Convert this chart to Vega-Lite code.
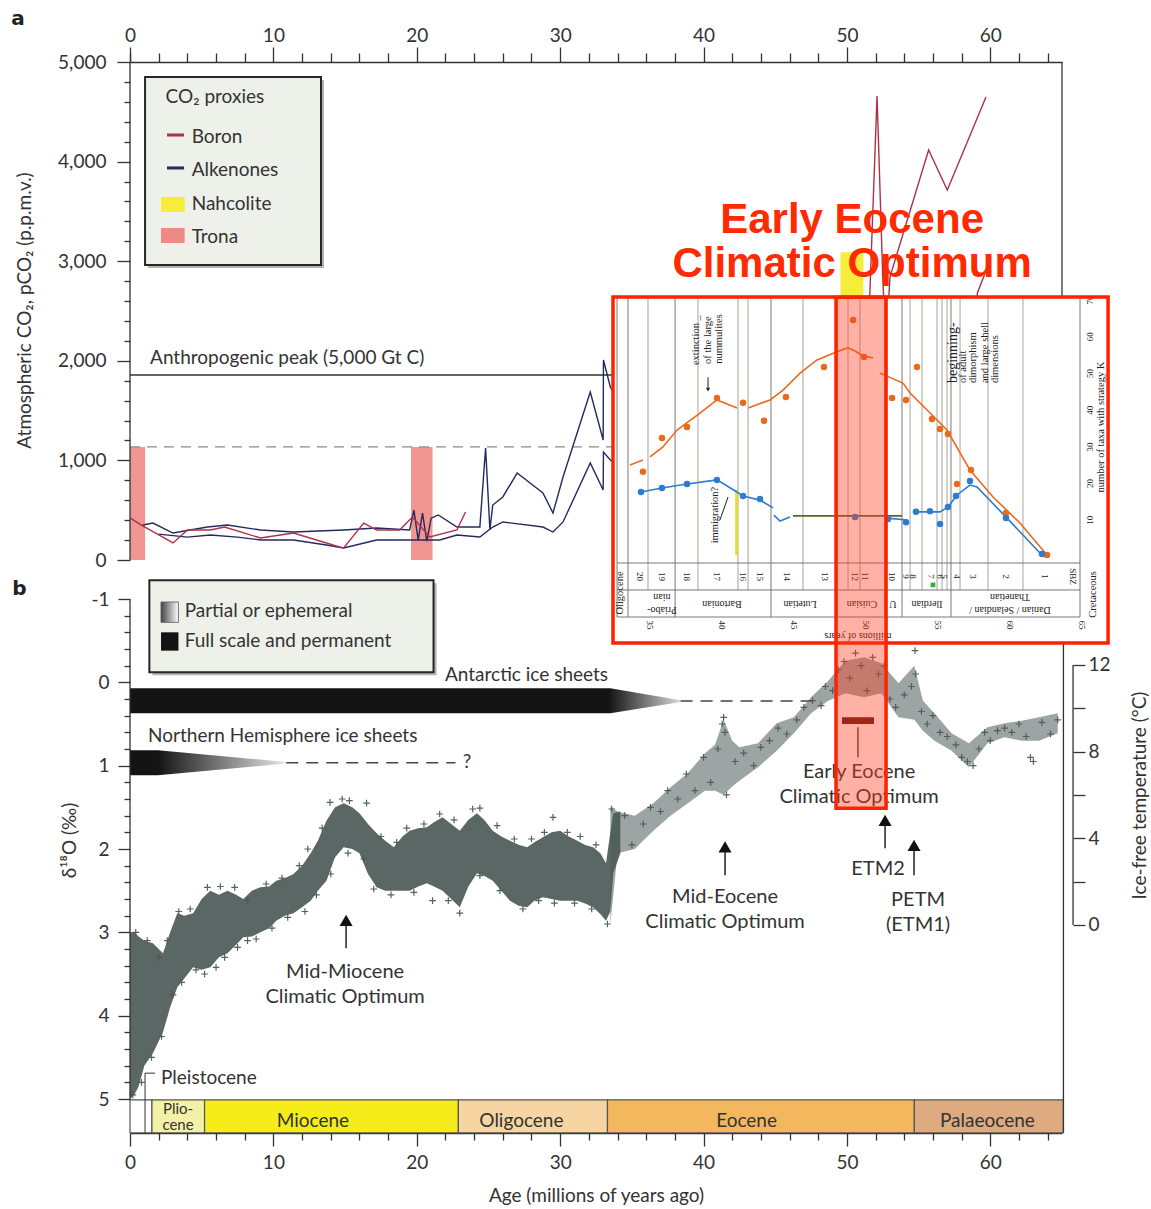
{
  "$schema": "https://vega.github.io/schema/vega-lite/v6.json",
  "width": 932,
  "height": 1071,
  "autosize": {"type": "none"},
  "padding": {"left": 130, "top": 62, "right": 89, "bottom": 76},
  "background": "#ffffff",
  "config": {
    "view": {"stroke": null},
    "axis": {"grid": false, "labelFont": "Lato", "labelFontSize": 19, "labelColor": "#333333", "titleFont": "Lato", "titleFontSize": 19, "titleFontWeight": "normal", "titleColor": "#333333", "tickColor": "#333333", "domainColor": "#333333", "tickWidth": 1.3, "domainWidth": 1.3, "labelOverlap": false, "labelFlush": false},
    "text": {"font": "Lato", "fontSize": 19, "color": "#333333", "baseline": "alphabetic"},
    "rule": {"color": "#333333", "strokeWidth": 1.3}
  },
  "data": {"values": [{}]},
  "datasets": {
    "co2": [
      {"series": "alk_hi", "proxy": "Alkenones", "age": 0.9, "ppm": 351}, {"series": "alk_hi", "proxy": "Alkenones", "age": 1.6, "ppm": 371}, {"series": "alk_hi", "proxy": "Alkenones", "age": 3.0, "ppm": 271}, {"series": "alk_hi", "proxy": "Alkenones", "age": 5.4, "ppm": 331}, {"series": "alk_hi", "proxy": "Alkenones", "age": 6.8, "ppm": 351}, {"series": "alk_hi", "proxy": "Alkenones", "age": 9.1, "ppm": 301}, {"series": "alk_hi", "proxy": "Alkenones", "age": 11.4, "ppm": 281}, {"series": "alk_hi", "proxy": "Alkenones", "age": 14.9, "ppm": 301}, {"series": "alk_hi", "proxy": "Alkenones", "age": 17.2, "ppm": 321}, {"series": "alk_hi", "proxy": "Alkenones", "age": 19.5, "ppm": 301}, {"series": "alk_hi", "proxy": "Alkenones", "age": 19.8, "ppm": 500}, {"series": "alk_hi", "proxy": "Alkenones", "age": 20.1, "ppm": 200}, {"series": "alk_hi", "proxy": "Alkenones", "age": 20.4, "ppm": 470}, {"series": "alk_hi", "proxy": "Alkenones", "age": 20.7, "ppm": 190}, {"series": "alk_hi", "proxy": "Alkenones", "age": 21.0, "ppm": 420}, {"series": "alk_hi", "proxy": "Alkenones", "age": 21.5, "ppm": 452}, {"series": "alk_hi", "proxy": "Alkenones", "age": 22.8, "ppm": 331}, {"series": "alk_hi", "proxy": "Alkenones", "age": 23.7, "ppm": 331}, {"series": "alk_hi", "proxy": "Alkenones", "age": 24.4, "ppm": 331}, {"series": "alk_hi", "proxy": "Alkenones", "age": 24.8, "ppm": 1124}, {"series": "alk_hi", "proxy": "Alkenones", "age": 25.1, "ppm": 301}, {"series": "alk_hi", "proxy": "Alkenones", "age": 25.3, "ppm": 552}, {"series": "alk_hi", "proxy": "Alkenones", "age": 26.0, "ppm": 633}, {"series": "alk_hi", "proxy": "Alkenones", "age": 27.0, "ppm": 873}, {"series": "alk_hi", "proxy": "Alkenones", "age": 28.8, "ppm": 673}, {"series": "alk_hi", "proxy": "Alkenones", "age": 29.5, "ppm": 472}, {"series": "alk_hi", "proxy": "Alkenones", "age": 30.2, "ppm": 833}, {"series": "alk_hi", "proxy": "Alkenones", "age": 32.1, "ppm": 1687}, {"series": "alk_hi", "proxy": "Alkenones", "age": 33.0, "ppm": 1205}, {"series": "alk_hi", "proxy": "Alkenones", "age": 33.02, "ppm": 2008}, {"series": "alk_hi", "proxy": "Alkenones", "age": 33.5, "ppm": 1737}, {"series": "alk_hi", "proxy": "Alkenones", "age": 34.5, "ppm": 1500},
      {"series": "alk_lo", "proxy": "Alkenones", "age": 2.0, "ppm": 260}, {"series": "alk_lo", "proxy": "Alkenones", "age": 4.0, "ppm": 230}, {"series": "alk_lo", "proxy": "Alkenones", "age": 5.6, "ppm": 251}, {"series": "alk_lo", "proxy": "Alkenones", "age": 7.5, "ppm": 230}, {"series": "alk_lo", "proxy": "Alkenones", "age": 9.1, "ppm": 201}, {"series": "alk_lo", "proxy": "Alkenones", "age": 11.4, "ppm": 201}, {"series": "alk_lo", "proxy": "Alkenones", "age": 13.7, "ppm": 151}, {"series": "alk_lo", "proxy": "Alkenones", "age": 14.9, "ppm": 120}, {"series": "alk_lo", "proxy": "Alkenones", "age": 17.2, "ppm": 201}, {"series": "alk_lo", "proxy": "Alkenones", "age": 19.5, "ppm": 201}, {"series": "alk_lo", "proxy": "Alkenones", "age": 21.6, "ppm": 201}, {"series": "alk_lo", "proxy": "Alkenones", "age": 22.8, "ppm": 251}, {"series": "alk_lo", "proxy": "Alkenones", "age": 24.4, "ppm": 231}, {"series": "alk_lo", "proxy": "Alkenones", "age": 25.3, "ppm": 331}, {"series": "alk_lo", "proxy": "Alkenones", "age": 26.0, "ppm": 382}, {"series": "alk_lo", "proxy": "Alkenones", "age": 28.8, "ppm": 331}, {"series": "alk_lo", "proxy": "Alkenones", "age": 29.5, "ppm": 281}, {"series": "alk_lo", "proxy": "Alkenones", "age": 30.2, "ppm": 382}, {"series": "alk_lo", "proxy": "Alkenones", "age": 32.1, "ppm": 974}, {"series": "alk_lo", "proxy": "Alkenones", "age": 33.0, "ppm": 703}, {"series": "alk_lo", "proxy": "Alkenones", "age": 33.02, "ppm": 1084}, {"series": "alk_lo", "proxy": "Alkenones", "age": 33.5, "ppm": 1004}, {"series": "alk_lo", "proxy": "Alkenones", "age": 34.5, "ppm": 900},
      {"series": "boron", "proxy": "Boron", "age": 0, "ppm": 422}, {"series": "boron", "proxy": "Boron", "age": 0.8, "ppm": 351}, {"series": "boron", "proxy": "Boron", "age": 3.0, "ppm": 171}, {"series": "boron", "proxy": "Boron", "age": 4.0, "ppm": 301}, {"series": "boron", "proxy": "Boron", "age": 5.6, "ppm": 301}, {"series": "boron", "proxy": "Boron", "age": 6.6, "ppm": 331}, {"series": "boron", "proxy": "Boron", "age": 9.1, "ppm": 221}, {"series": "boron", "proxy": "Boron", "age": 11.4, "ppm": 271}, {"series": "boron", "proxy": "Boron", "age": 13.7, "ppm": 171}, {"series": "boron", "proxy": "Boron", "age": 14.9, "ppm": 120}, {"series": "boron", "proxy": "Boron", "age": 16.3, "ppm": 371}, {"series": "boron", "proxy": "Boron", "age": 17.2, "ppm": 301}, {"series": "boron", "proxy": "Boron", "age": 18.8, "ppm": 301}, {"series": "boron", "proxy": "Boron", "age": 19.7, "ppm": 432}, {"series": "boron", "proxy": "Boron", "age": 20.9, "ppm": 231}, {"series": "boron", "proxy": "Boron", "age": 22.8, "ppm": 301}, {"series": "boron", "proxy": "Boron", "age": 23.4, "ppm": 482},
      {"series": "boron_eo1", "proxy": "Boron", "age": 51.0, "ppm": 1300}, {"series": "boron_eo1", "proxy": "Boron", "age": 51.6, "ppm": 2681}, {"series": "boron_eo1", "proxy": "Boron", "age": 52.1, "ppm": 4659}, {"series": "boron_eo1", "proxy": "Boron", "age": 52.5, "ppm": 2841}, {"series": "boron_eo1", "proxy": "Boron", "age": 52.8, "ppm": 1800},
      {"series": "boron_eo2", "proxy": "Boron", "age": 52.6, "ppm": 1800}, {"series": "boron_eo2", "proxy": "Boron", "age": 53.0, "ppm": 2841}, {"series": "boron_eo2", "proxy": "Boron", "age": 55.7, "ppm": 4116}, {"series": "boron_eo2", "proxy": "Boron", "age": 57.0, "ppm": 3715}, {"series": "boron_eo2", "proxy": "Boron", "age": 59.7, "ppm": 4649},
      {"series": "boron_eo3", "proxy": "Boron", "age": 58.5, "ppm": 1500}, {"series": "boron_eo3", "proxy": "Boron", "age": 59.1, "ppm": 2681}, {"series": "boron_eo3", "proxy": "Boron", "age": 59.8, "ppm": 2942}
    ],
    "trona": [{"start": 0, "end": 1.05, "lo": 0, "hi": 1135}, {"start": 19.6, "end": 21.1, "lo": 0, "hi": 1135}],
    "nahcolite": [{"start": 49.55, "end": 51.15, "lo": 1135, "hi": 3090}],
    "ice_ant": [{"age": 0, "top": 0.07, "bot": 0.37}, {"age": 33.5, "top": 0.07, "bot": 0.37}, {"age": 38.4, "top": 0.215, "bot": 0.235}],
    "ice_nh": [{"age": 0, "top": 0.816, "bot": 1.116}, {"age": 1.95, "top": 0.816, "bot": 1.116}, {"age": 10.9, "top": 0.955, "bot": 0.975}],
    "ice_dash": [{"start": 38.4, "end": 48.2, "d": 0.225}, {"start": 10.9, "end": 22.7, "d": 0.965}],
    "ice_labels": [{"label": "Antarctic ice sheets", "age": 21.97, "d": -0.02}, {"label": "Northern Hemisphere ice sheets", "age": 1.26, "d": 0.72}],
    "d18o_neogene": [
      {"age": 0, "lo": 3.0, "hi": 5.0}, {"age": 0.3, "lo": 3.0, "hi": 4.95}, {"age": 0.6, "lo": 3.05, "hi": 4.85}, {"age": 1.0, "lo": 3.1, "hi": 4.6}, {"age": 1.6, "lo": 3.13, "hi": 4.45}, {"age": 2.3, "lo": 3.25, "hi": 4.2}, {"age": 2.8, "lo": 3.0, "hi": 3.9}, {"age": 3.3, "lo": 2.77, "hi": 3.66}, {"age": 3.8, "lo": 2.8, "hi": 3.55}, {"age": 4.4, "lo": 2.77, "hi": 3.42}, {"age": 5.0, "lo": 2.6, "hi": 3.45}, {"age": 5.6, "lo": 2.5, "hi": 3.42}, {"age": 6.2, "lo": 2.55, "hi": 3.3}, {"age": 6.8, "lo": 2.5, "hi": 3.25}, {"age": 7.4, "lo": 2.55, "hi": 3.15}, {"age": 7.9, "lo": 2.6, "hi": 3.06}, {"age": 8.5, "lo": 2.5, "hi": 3.05}, {"age": 9.1, "lo": 2.46, "hi": 3.0}, {"age": 9.7, "lo": 2.45, "hi": 2.95}, {"age": 10.2, "lo": 2.38, "hi": 2.86}, {"age": 10.8, "lo": 2.35, "hi": 2.8}, {"age": 11.4, "lo": 2.3, "hi": 2.77}, {"age": 12.0, "lo": 2.2, "hi": 2.7}, {"age": 12.6, "lo": 2.05, "hi": 2.62}, {"age": 13.1, "lo": 1.9, "hi": 2.5}, {"age": 13.7, "lo": 1.66, "hi": 2.38}, {"age": 14.3, "lo": 1.5, "hi": 2.1}, {"age": 14.9, "lo": 1.45, "hi": 1.98}, {"age": 15.5, "lo": 1.5, "hi": 2.0}, {"age": 16.0, "lo": 1.57, "hi": 2.05}, {"age": 16.6, "lo": 1.7, "hi": 2.3}, {"age": 17.2, "lo": 1.81, "hi": 2.46}, {"age": 17.8, "lo": 1.9, "hi": 2.5}, {"age": 18.4, "lo": 1.98, "hi": 2.5}, {"age": 19.0, "lo": 1.85, "hi": 2.5}, {"age": 19.5, "lo": 1.78, "hi": 2.5}, {"age": 20.1, "lo": 1.75, "hi": 2.45}, {"age": 20.7, "lo": 1.74, "hi": 2.41}, {"age": 21.2, "lo": 1.68, "hi": 2.45}, {"age": 21.8, "lo": 1.62, "hi": 2.5}, {"age": 22.4, "lo": 1.7, "hi": 2.6}, {"age": 23.0, "lo": 1.78, "hi": 2.7}, {"age": 23.6, "lo": 1.65, "hi": 2.45}, {"age": 24.2, "lo": 1.57, "hi": 2.29}, {"age": 24.7, "lo": 1.65, "hi": 2.32}, {"age": 25.3, "lo": 1.78, "hi": 2.38}, {"age": 25.9, "lo": 1.85, "hi": 2.5}, {"age": 26.5, "lo": 1.9, "hi": 2.62}, {"age": 27.1, "lo": 1.95, "hi": 2.68}, {"age": 27.7, "lo": 1.98, "hi": 2.7}, {"age": 28.2, "lo": 1.92, "hi": 2.62}, {"age": 28.8, "lo": 1.86, "hi": 2.58}, {"age": 29.4, "lo": 1.8, "hi": 2.6}, {"age": 30.0, "lo": 1.78, "hi": 2.62}, {"age": 30.6, "lo": 1.85, "hi": 2.62}, {"age": 31.2, "lo": 1.9, "hi": 2.62}, {"age": 31.7, "lo": 1.95, "hi": 2.65}, {"age": 32.3, "lo": 1.98, "hi": 2.7}, {"age": 32.8, "lo": 2.05, "hi": 2.78}, {"age": 33.2, "lo": 2.17, "hi": 2.86}, {"age": 33.5, "lo": 1.8, "hi": 2.75}, {"age": 33.7, "lo": 1.57, "hi": 2.29}, {"age": 34.2, "lo": 1.55, "hi": 2.05}
    ],
    "d18o_paleogene": [
      {"age": 33.5, "lo": 1.5, "hi": 2.9}, {"age": 34.0, "lo": 1.55, "hi": 2.05}, {"age": 35.2, "lo": 1.6, "hi": 2.0}, {"age": 36.5, "lo": 1.45, "hi": 1.78}, {"age": 37.7, "lo": 1.26, "hi": 1.6}, {"age": 38.9, "lo": 1.09, "hi": 1.45}, {"age": 40.1, "lo": 0.85, "hi": 1.3}, {"age": 40.8, "lo": 0.75, "hi": 1.3}, {"age": 41.4, "lo": 0.45, "hi": 1.35}, {"age": 42.0, "lo": 0.7, "hi": 1.25}, {"age": 42.5, "lo": 0.78, "hi": 1.18}, {"age": 43.8, "lo": 0.73, "hi": 1.02}, {"age": 45.1, "lo": 0.49, "hi": 0.82}, {"age": 46.3, "lo": 0.42, "hi": 0.61}, {"age": 47.5, "lo": 0.18, "hi": 0.37}, {"age": 48.7, "lo": -0.02, "hi": 0.22}, {"age": 49.9, "lo": -0.26, "hi": 0.13}, {"age": 51.2, "lo": -0.3, "hi": 0.18}, {"age": 52.4, "lo": -0.23, "hi": 0.13}, {"age": 53.6, "lo": 0.01, "hi": 0.42}, {"age": 54.7, "lo": -0.2, "hi": 0.45}, {"age": 55.3, "lo": 0.22, "hi": 0.58}, {"age": 56.1, "lo": 0.37, "hi": 0.7}, {"age": 57.3, "lo": 0.61, "hi": 0.82}, {"age": 58.5, "lo": 0.73, "hi": 1.02}, {"age": 59.8, "lo": 0.54, "hi": 0.73}, {"age": 61.0, "lo": 0.49, "hi": 0.66}, {"age": 62.2, "lo": 0.46, "hi": 0.7}, {"age": 63.4, "lo": 0.42, "hi": 0.7}, {"age": 64.7, "lo": 0.37, "hi": 0.61}
    ],
    "d18o_pts": [
      {"age": 0.4, "d": 3.0}, {"age": 1.2, "d": 3.1}, {"age": 2.0, "d": 3.3}, {"age": 2.6, "d": 3.1}, {"age": 3.4, "d": 2.75}, {"age": 4.2, "d": 2.72}, {"age": 5.4, "d": 2.46}, {"age": 6.3, "d": 2.45}, {"age": 7.3, "d": 2.46}, {"age": 8.2, "d": 2.62}, {"age": 9.5, "d": 2.42}, {"age": 10.6, "d": 2.35}, {"age": 11.8, "d": 2.2}, {"age": 12.4, "d": 2.0}, {"age": 13.4, "d": 1.75}, {"age": 13.95, "d": 1.44}, {"age": 14.8, "d": 1.4}, {"age": 15.3, "d": 1.42}, {"age": 16.5, "d": 1.45}, {"age": 17.5, "d": 1.85}, {"age": 18.6, "d": 1.92}, {"age": 19.3, "d": 1.75}, {"age": 20.5, "d": 1.7}, {"age": 21.6, "d": 1.58}, {"age": 22.6, "d": 1.65}, {"age": 23.9, "d": 1.52}, {"age": 24.4, "d": 1.51}, {"age": 25.6, "d": 1.72}, {"age": 26.8, "d": 1.88}, {"age": 28.0, "d": 1.88}, {"age": 28.9, "d": 1.8}, {"age": 29.5, "d": 1.62}, {"age": 30.5, "d": 1.8}, {"age": 31.4, "d": 1.85}, {"age": 32.5, "d": 1.95}, {"age": 33.6, "d": 1.52},
      {"age": 0.2, "d": 4.95}, {"age": 0.8, "d": 4.8}, {"age": 1.5, "d": 4.5}, {"age": 2.2, "d": 4.25}, {"age": 3.0, "d": 3.75}, {"age": 3.6, "d": 3.6}, {"age": 4.6, "d": 3.45}, {"age": 5.2, "d": 3.5}, {"age": 6.0, "d": 3.42}, {"age": 6.6, "d": 3.3}, {"age": 7.5, "d": 3.18}, {"age": 8.2, "d": 3.1}, {"age": 8.8, "d": 3.08}, {"age": 9.9, "d": 2.95}, {"age": 11.0, "d": 2.82}, {"age": 12.2, "d": 2.75}, {"age": 13.0, "d": 2.55}, {"age": 14.0, "d": 2.3}, {"age": 15.2, "d": 2.05}, {"age": 16.3, "d": 2.12}, {"age": 17.0, "d": 2.48}, {"age": 18.2, "d": 2.55}, {"age": 19.8, "d": 2.52}, {"age": 21.1, "d": 2.62}, {"age": 22.2, "d": 2.62}, {"age": 23.0, "d": 2.77}, {"age": 24.4, "d": 2.32}, {"age": 25.8, "d": 2.5}, {"age": 27.4, "d": 2.72}, {"age": 28.5, "d": 2.62}, {"age": 29.6, "d": 2.65}, {"age": 31.0, "d": 2.65}, {"age": 32.2, "d": 2.72}, {"age": 33.3, "d": 2.9},
      {"age": 34.5, "d": 1.6}, {"age": 35.0, "d": 1.95}, {"age": 35.8, "d": 1.7}, {"age": 36.3, "d": 1.5}, {"age": 37.0, "d": 1.55}, {"age": 37.5, "d": 1.3}, {"age": 38.2, "d": 1.4}, {"age": 38.8, "d": 1.1}, {"age": 39.4, "d": 1.3}, {"age": 40.0, "d": 0.9}, {"age": 40.5, "d": 1.2}, {"age": 41.0, "d": 0.8}, {"age": 41.3, "d": 0.5}, {"age": 41.4, "d": 0.42}, {"age": 41.5, "d": 0.6}, {"age": 41.6, "d": 1.35}, {"age": 42.2, "d": 0.95}, {"age": 42.8, "d": 0.85}, {"age": 43.5, "d": 1.0}, {"age": 44.0, "d": 0.78}, {"age": 44.6, "d": 0.7}, {"age": 45.2, "d": 0.55}, {"age": 45.8, "d": 0.62}, {"age": 46.5, "d": 0.45}, {"age": 47.0, "d": 0.3}, {"age": 47.6, "d": 0.22}, {"age": 48.2, "d": 0.28}, {"age": 48.5, "d": 0.05}, {"age": 49.0, "d": 0.1}, {"age": 49.4, "d": -0.15}, {"age": 49.8, "d": -0.25}, {"age": 50.2, "d": -0.05}, {"age": 50.6, "d": -0.35}, {"age": 51.0, "d": -0.2}, {"age": 51.4, "d": 0.1}, {"age": 51.8, "d": -0.3}, {"age": 52.2, "d": -0.1}, {"age": 52.6, "d": -0.2}, {"age": 53.0, "d": 0.2}, {"age": 53.4, "d": 0.3}, {"age": 54.0, "d": 0.15}, {"age": 54.5, "d": 0.05}, {"age": 54.75, "d": -0.38}, {"age": 54.8, "d": -0.1}, {"age": 55.2, "d": 0.35}, {"age": 55.6, "d": 0.5}, {"age": 56.0, "d": 0.4}, {"age": 56.5, "d": 0.6}, {"age": 57.0, "d": 0.65}, {"age": 57.6, "d": 0.75}, {"age": 58.0, "d": 0.9}, {"age": 58.4, "d": 0.95}, {"age": 58.8, "d": 1.0}, {"age": 59.2, "d": 0.8}, {"age": 59.6, "d": 0.6}, {"age": 60.0, "d": 0.7}, {"age": 60.5, "d": 0.58}, {"age": 61.0, "d": 0.55}, {"age": 61.5, "d": 0.6}, {"age": 62.0, "d": 0.5}, {"age": 62.5, "d": 0.65}, {"age": 62.8, "d": 0.9}, {"age": 63.0, "d": 0.95}, {"age": 63.6, "d": 0.48}, {"age": 64.2, "d": 0.62}, {"age": 64.7, "d": 0.45}
    ],
    "arrows": [{"age": 15.07, "head": 2.856, "tail": 3.19}, {"age": 41.5, "head": 1.974, "tail": 2.316}, {"age": 52.66, "head": 1.656, "tail": 1.99}, {"age": 54.68, "head": 1.956, "tail": 2.316}],
    "notes_b": [
      {"label": "Mid-Miocene", "age": 15.0, "d": 3.55}, {"label": "Climatic Optimum", "age": 15.0, "d": 3.85},
      {"label": "Mid-Eocene", "age": 41.5, "d": 2.652}, {"label": "Climatic Optimum", "age": 41.5, "d": 2.952},
      {"label": "ETM2", "age": 52.17, "d": 2.316},
      {"label": "PETM", "age": 54.96, "d": 2.68}, {"label": "(ETM1)", "age": 54.96, "d": 2.98},
      {"label": "Early Eocene", "age": 50.85, "d": 1.152}, {"label": "Climatic Optimum", "age": 50.85, "d": 1.452}
    ],
    "epochs": [
      {"epoch": "Pleistocene", "start": 0, "end": 1.53}, {"epoch": "Pliocene", "start": 1.53, "end": 5.2}, {"epoch": "Miocene", "start": 5.2, "end": 22.9}, {"epoch": "Oligocene", "start": 22.9, "end": 33.3}, {"epoch": "Eocene", "start": 33.3, "end": 54.7}, {"epoch": "Palaeocene", "start": 54.7, "end": 65.1}
    ],
    "epoch_labels": [
      {"label": "Miocene", "age": 12.76, "d": 5.33}, {"label": "Oligocene", "age": 27.3, "d": 5.33}, {"label": "Eocene", "age": 43.0, "d": 5.33}, {"label": "Palaeocene", "age": 59.8, "d": 5.33}
    ],
    "plio_labels": [{"label": "Plio-", "age": 3.35, "d": 5.184}, {"label": "cene", "age": 3.35, "d": 5.376}],
    "inset_zones": [{"age": 34.86}, {"age": 38.33}, {"age": 41.11}, {"age": 41.81}, {"age": 45.625}, {"age": 48.75}, {"age": 49.58}, {"age": 53.06}, {"age": 53.89}, {"age": 54.93}, {"age": 55.28}, {"age": 55.625}, {"age": 56.53}, {"age": 58.47}, {"age": 60.9}],
    "inset_stages": [{"age": 32.71}, {"age": 33.47}, {"age": 36.74}, {"age": 43.4}, {"age": 47.99}, {"age": 51.32}, {"age": 52.5}, {"age": 55.9}, {"age": 64.86}],
    "inset_rows": [{"n": -1.63}, {"n": -8.99}, {"n": -16.35}],
    "inset_curves": [
      {"grp": "o1", "kind": "orange", "age": 33.61, "n": 25.1}, {"grp": "o1", "kind": "orange", "age": 34.51, "n": 26.4},
      {"grp": "o2", "kind": "orange", "age": 35.0, "n": 27.3}, {"grp": "o2", "kind": "orange", "age": 35.9, "n": 30.0}, {"grp": "o2", "kind": "orange", "age": 36.875, "n": 34.6}, {"grp": "o2", "kind": "orange", "age": 38.47, "n": 39.2}, {"grp": "o2", "kind": "orange", "age": 39.65, "n": 42.8}, {"grp": "o2", "kind": "orange", "age": 41.04, "n": 40.6},
      {"grp": "o3", "kind": "orange", "age": 41.81, "n": 40.6}, {"grp": "o3", "kind": "orange", "age": 43.33, "n": 42.8}, {"grp": "o3", "kind": "orange", "age": 44.24, "n": 45.5}, {"grp": "o3", "kind": "orange", "age": 45.42, "n": 50.1}, {"grp": "o3", "kind": "orange", "age": 46.6, "n": 53.7}, {"grp": "o3", "kind": "orange", "age": 47.99, "n": 55.9}, {"grp": "o3", "kind": "orange", "age": 48.75, "n": 57.0}, {"grp": "o3", "kind": "orange", "age": 49.3, "n": 56.0}, {"grp": "o3", "kind": "orange", "age": 49.79, "n": 54.8}, {"grp": "o3", "kind": "orange", "age": 50.49, "n": 54.2},
      {"grp": "o4", "kind": "orange", "age": 50.97, "n": 50.1}, {"grp": "o4", "kind": "orange", "age": 52.57, "n": 47.4}, {"grp": "o4", "kind": "orange", "age": 53.06, "n": 44.7}, {"grp": "o4", "kind": "orange", "age": 54.24, "n": 40.05}, {"grp": "o4", "kind": "orange", "age": 55.625, "n": 34.6}, {"grp": "o4", "kind": "orange", "age": 57.22, "n": 23.7}, {"grp": "o4", "kind": "orange", "age": 58.82, "n": 16.35}, {"grp": "o4", "kind": "orange", "age": 60.69, "n": 9.26}, {"grp": "o4", "kind": "orange", "age": 62.57, "n": 0.54},
      {"grp": "b1", "kind": "blue", "age": 34.375, "n": 17.7}, {"grp": "b1", "kind": "blue", "age": 35.83, "n": 18.8}, {"grp": "b1", "kind": "blue", "age": 37.57, "n": 19.9}, {"grp": "b1", "kind": "blue", "age": 39.65, "n": 21.0}, {"grp": "b1", "kind": "blue", "age": 41.04, "n": 17.7}, {"grp": "b1", "kind": "blue", "age": 41.46, "n": 16.6}, {"grp": "b1", "kind": "blue", "age": 42.64, "n": 15.5}, {"grp": "b1", "kind": "blue", "age": 43.54, "n": 13.4},
      {"grp": "b2", "kind": "blue", "age": 43.6, "n": 11.4}, {"grp": "b2", "kind": "blue", "age": 44.03, "n": 9.8}, {"grp": "b2", "kind": "blue", "age": 44.72, "n": 10.9},
      {"grp": "g1", "kind": "olive", "age": 44.93, "n": 11.2}, {"grp": "g1", "kind": "olive", "age": 52.5, "n": 11.2},
      {"grp": "b3", "kind": "blue", "age": 51.46, "n": 10.6}, {"grp": "b3", "kind": "blue", "age": 52.85, "n": 10.1},
      {"grp": "b4", "kind": "blue", "age": 53.4, "n": 12.3}, {"grp": "b4", "kind": "blue", "age": 54.44, "n": 12.3}, {"grp": "b4", "kind": "blue", "age": 55.14, "n": 12.3}, {"grp": "b4", "kind": "blue", "age": 55.69, "n": 13.6}, {"grp": "b4", "kind": "blue", "age": 56.32, "n": 16.9}, {"grp": "b4", "kind": "blue", "age": 57.22, "n": 19.6}, {"grp": "b4", "kind": "blue", "age": 57.71, "n": 19.1}, {"grp": "b4", "kind": "blue", "age": 59.79, "n": 10.6}, {"grp": "b4", "kind": "blue", "age": 62.08, "n": 1.1}
    ],
    "inset_dots": [
      {"kind": "orange", "age": 34.51, "n": 23.2}, {"kind": "orange", "age": 35.83, "n": 32.4}, {"kind": "orange", "age": 37.57, "n": 35.4}, {"kind": "orange", "age": 39.65, "n": 43.3}, {"kind": "orange", "age": 41.46, "n": 42.0}, {"kind": "orange", "age": 42.92, "n": 37.1}, {"kind": "orange", "age": 44.44, "n": 43.6}, {"kind": "orange", "age": 47.08, "n": 51.8}, {"kind": "orange", "age": 49.1, "n": 64.6}, {"kind": "orange", "age": 49.86, "n": 54.5}, {"kind": "orange", "age": 51.81, "n": 43.3}, {"kind": "orange", "age": 52.78, "n": 42.8}, {"kind": "orange", "age": 53.54, "n": 51.8}, {"kind": "orange", "age": 54.58, "n": 37.6}, {"kind": "orange", "age": 55.14, "n": 34.9}, {"kind": "orange", "age": 55.69, "n": 33.5}, {"kind": "orange", "age": 56.32, "n": 19.9}, {"kind": "orange", "age": 57.29, "n": 23.7}, {"kind": "orange", "age": 59.72, "n": 12.0}, {"kind": "orange", "age": 62.57, "n": 0.54},
      {"kind": "blue", "age": 34.375, "n": 17.7}, {"kind": "blue", "age": 35.83, "n": 18.8}, {"kind": "blue", "age": 37.57, "n": 19.9}, {"kind": "blue", "age": 39.65, "n": 21.0}, {"kind": "blue", "age": 41.46, "n": 16.6}, {"kind": "blue", "age": 42.64, "n": 15.8}, {"kind": "blue", "age": 49.24, "n": 10.9}, {"kind": "blue", "age": 51.53, "n": 10.35}, {"kind": "blue", "age": 52.78, "n": 9.5}, {"kind": "blue", "age": 53.47, "n": 12.3}, {"kind": "blue", "age": 54.44, "n": 12.5}, {"kind": "blue", "age": 55.14, "n": 9.0}, {"kind": "blue", "age": 55.69, "n": 13.6}, {"kind": "blue", "age": 56.25, "n": 16.6}, {"kind": "blue", "age": 57.22, "n": 20.7}, {"kind": "blue", "age": 59.72, "n": 10.6}, {"kind": "blue", "age": 62.22, "n": 0.8}
    ],
    "sbz": [
      {"z": "20", "age": 34.31}, {"z": "19", "age": 35.83}, {"z": "18", "age": 37.57}, {"z": "17", "age": 39.65}, {"z": "16", "age": 41.46}, {"z": "15", "age": 42.64}, {"z": "14", "age": 44.51}, {"z": "13", "age": 47.15}, {"z": "12", "age": 49.24}, {"z": "11", "age": 49.93}, {"z": "10", "age": 51.81}, {"z": "9", "age": 52.78}, {"z": "8", "age": 53.26}, {"z": "7", "age": 54.51}, {"z": "6", "age": 55.14}, {"z": "5", "age": 55.42}, {"z": "4", "age": 56.32}, {"z": "3", "age": 57.43}, {"z": "2", "age": 59.72}, {"z": "1", "age": 62.43}, {"z": "SBZ", "age": 64.375}
    ],
    "stage_names": [
      {"s": "nian", "age": 35.83, "n": -10.9}, {"s": "Priabo-", "age": 35.83, "n": -14.5}, {"s": "Bartonian", "age": 40.0, "n": -12.7}, {"s": "Lutetian", "age": 45.42, "n": -12.7}, {"s": "Cuisian", "age": 49.72, "n": -12.7}, {"s": "U", "age": 51.875, "n": -12.7}, {"s": "Ilerdian", "age": 54.24, "n": -12.7}, {"s": "Thanetian", "age": 60.0, "n": -10.9}, {"s": "Danian / Selandian /", "age": 60.0, "n": -14.5}, {"s": "millions of years", "age": 49.44, "n": -21.6}
    ],
    "inset_ages": [{"v": 35}, {"v": 40}, {"v": 45}, {"v": 50}, {"v": 55}, {"v": 60}, {"v": 65}],
    "inset_counts": [{"v": 10}, {"v": 20}, {"v": 30}, {"v": 40}, {"v": 50}, {"v": 60}, {"v": 70}],
    "inset_notes_c": [
      {"t": "extinction _", "age": 38.19, "n": 59.1}, {"t": "of the large", "age": 39.03, "n": 59.1}, {"t": "nummulites", "age": 39.79, "n": 59.4}, {"t": "immigration?", "age": 39.51, "n": 11.44}, {"t": "Oligocene", "age": 32.92, "n": -9.8}, {"t": "Cretaceous", "age": 65.76, "n": -10.2}, {"t": "number of taxa with strategy K", "age": 66.3, "n": 35.4}
    ],
    "inset_notes_l": [
      {"t": "of adult", "age": 56.74, "n": 47.4}, {"t": "dimorphism", "age": 57.43, "n": 47.4}, {"t": "and large shell", "age": 58.26, "n": 47.4}, {"t": "dimensions", "age": 58.96, "n": 47.4}
    ]
  },
  "layer": [
    {
      "layer": [
        {"data": {"name": "trona"}, "mark": {"type": "rect", "color": "#ee8a84", "opacity": 0.9},
         "encoding": {"x": {"field": "start", "type": "quantitative", "scale": {"domain": [0, 65], "nice": false, "zero": false},
                            "axis": {"orient": "top", "title": null, "labels": false, "domain": false, "tickSize": 9, "values": [0, 2, 4, 6, 8, 12, 14, 16, 18, 22, 24, 26, 28, 32, 34, 36, 38, 42, 44, 46, 48, 52, 54, 56, 58, 62, 64]}},
                      "x2": {"field": "end"},
                      "y": {"field": "lo", "type": "quantitative", "scale": {"domain": [-5753, 5000], "nice": false, "zero": false},
                            "axis": {"orient": "left", "title": null, "labels": false, "domain": false, "tickSize": 6, "values": [200, 400, 600, 800, 1200, 1400, 1600, 1800, 2200, 2400, 2600, 2800, 3200, 3400, 3600, 3800, 4200, 4400, 4600, 4800]}},
                      "y2": {"field": "hi"}}},
        {"data": {"name": "nahcolite"}, "mark": {"type": "rect", "color": "#f6ec3a"},
         "encoding": {"x": {"field": "start", "type": "quantitative", "scale": {"domain": [0, 65], "nice": false, "zero": false}, "axis": null}, "x2": {"field": "end"}, "y": {"field": "lo", "type": "quantitative", "scale": {"domain": [-5753, 5000], "nice": false, "zero": false}, "axis": null}, "y2": {"field": "hi"}}},
        {"mark": {"type": "rule", "color": "#8c8c8c", "strokeDash": [10, 7], "strokeWidth": 1.3},
         "encoding": {"x": {"datum": 0, "scale": {"domain": [0, 65], "nice": false, "zero": false}, "axis": null}, "x2": {"datum": 65}, "y": {"datum": 1135, "scale": {"domain": [-5753, 5000], "nice": false, "zero": false}, "axis": null}}},
        {"mark": {"type": "rule", "color": "#333333", "strokeWidth": 1.4},
         "encoding": {"x": {"datum": 0, "scale": {"domain": [0, 65], "nice": false, "zero": false}, "axis": null}, "x2": {"datum": 65}, "y": {"datum": 1857, "scale": {"domain": [-5753, 5000], "nice": false, "zero": false}, "axis": null}}},
        {"mark": {"type": "text", "align": "left", "text": "Anthropogenic peak (5,000 Gt C)"},
         "encoding": {"x": {"datum": 1.4, "scale": {"domain": [0, 65], "nice": false, "zero": false}, "axis": null}, "y": {"datum": 1968, "scale": {"domain": [-5753, 5000], "nice": false, "zero": false}, "axis": null}}},
        {"data": {"name": "co2"}, "mark": {"type": "line", "strokeWidth": 1.4},
         "encoding": {
           "x": {"field": "age", "type": "quantitative", "scale": {"domain": [0, 65], "nice": false, "zero": false},
                 "axis": {"orient": "top", "title": null, "values": [0, 10, 20, 30, 40, 50, 60], "tickSize": 15, "labelPadding": 2}},
           "y": {"field": "ppm", "type": "quantitative", "scale": {"domain": [-5753, 5000], "nice": false, "zero": false},
                 "axis": {"orient": "left", "domain": false, "format": ",.0f", "values": [0, 1000, 2000, 3000, 4000, 5000], "tickSize": 13, "labelPadding": 11, "title": "Atmospheric CO₂, pCO₂ (p.p.m.v.)", "titleAngle": 270, "titleX": -100, "titleY": 248, "titleBaseline": "alphabetic", "titleAlign": "center"}},
           "color": {"field": "proxy", "type": "nominal", "scale": {"domain": ["Boron", "Alkenones"], "range": ["#b0304c", "#252a5e"]}, "legend": null},
           "detail": {"field": "series"}
         }},
        {"mark": {"type": "rule", "color": "#333333", "strokeWidth": 1.3},
         "encoding": {"x": {"datum": 0, "scale": {"domain": [0, 65], "nice": false, "zero": false}, "axis": null}, "y": {"datum": 0, "scale": {"domain": [-5753, 5000], "nice": false, "zero": false}, "axis": null}, "y2": {"datum": 5000}}},
        {"mark": {"type": "rule", "color": "#333333", "strokeWidth": 1.3},
         "encoding": {"x": {"datum": 65, "scale": {"domain": [0, 65], "nice": false, "zero": false}, "axis": null}, "y": {"datum": 0, "scale": {"domain": [-5753, 5000], "nice": false, "zero": false}, "axis": null}, "y2": {"datum": 5000}}},
        {"mark": {"type": "rect", "color": "#777777", "opacity": 0.55},
         "encoding": {"x": {"datum": 1.26, "scale": {"domain": [0, 65], "nice": false, "zero": false}, "axis": null}, "x2": {"datum": 13.53}, "y": {"datum": 2932, "scale": {"domain": [-5753, 5000], "nice": false, "zero": false}, "axis": null}, "y2": {"datum": 4819}}},
        {"mark": {"type": "rect", "fill": "#eef0ea", "stroke": "#262626", "strokeWidth": 2},
         "encoding": {"x": {"datum": 1.05, "scale": {"domain": [0, 65], "nice": false, "zero": false}, "axis": null}, "x2": {"datum": 13.32}, "y": {"datum": 2962, "scale": {"domain": [-5753, 5000], "nice": false, "zero": false}, "axis": null}, "y2": {"datum": 4849}}},
        {"mark": {"type": "text", "align": "left", "text": "CO₂ proxies"},
         "encoding": {"x": {"datum": 2.48, "scale": {"domain": [0, 65], "nice": false, "zero": false}, "axis": null}, "y": {"datum": 4588, "scale": {"domain": [-5753, 5000], "nice": false, "zero": false}, "axis": null}}},
        {"mark": {"type": "text", "align": "left", "text": ["Boron", "Alkenones", "Nahcolite", "Trona"], "lineHeight": 33.5},
         "encoding": {"x": {"datum": 4.3, "scale": {"domain": [0, 65], "nice": false, "zero": false}, "axis": null}, "y": {"datum": 4187, "scale": {"domain": [-5753, 5000], "nice": false, "zero": false}, "axis": null}}},
        {"mark": {"type": "rule", "color": "#b0304c", "strokeWidth": 3},
         "encoding": {"x": {"datum": 2.58, "scale": {"domain": [0, 65], "nice": false, "zero": false}, "axis": null}, "x2": {"datum": 3.77}, "y": {"datum": 4267, "scale": {"domain": [-5753, 5000], "nice": false, "zero": false}, "axis": null}}},
        {"mark": {"type": "rule", "color": "#252a5e", "strokeWidth": 3},
         "encoding": {"x": {"datum": 2.58, "scale": {"domain": [0, 65], "nice": false, "zero": false}, "axis": null}, "x2": {"datum": 3.77}, "y": {"datum": 3936, "scale": {"domain": [-5753, 5000], "nice": false, "zero": false}, "axis": null}}},
        {"mark": {"type": "rect", "color": "#f6ec3a"},
         "encoding": {"x": {"datum": 2.16, "scale": {"domain": [0, 65], "nice": false, "zero": false}, "axis": null}, "x2": {"datum": 3.81}, "y": {"datum": 3494, "scale": {"domain": [-5753, 5000], "nice": false, "zero": false}, "axis": null}, "y2": {"datum": 3645}}},
        {"mark": {"type": "rect", "color": "#ee8a84"},
         "encoding": {"x": {"datum": 2.16, "scale": {"domain": [0, 65], "nice": false, "zero": false}, "axis": null}, "x2": {"datum": 3.81}, "y": {"datum": 3183, "scale": {"domain": [-5753, 5000], "nice": false, "zero": false}, "axis": null}, "y2": {"datum": 3333}}},
        {"mark": {"type": "text", "text": "a", "font": "DejaVu Sans", "fontWeight": "bold", "fontSize": 20, "color": "#222222"},
         "encoding": {"x": {"datum": -7.81, "scale": {"domain": [0, 65], "nice": false, "zero": false}, "axis": null}, "y": {"datum": 5371, "scale": {"domain": [-5753, 5000], "nice": false, "zero": false}, "axis": null}}}
      ],
      "resolve": {"axis": {"x": "independent", "y": "independent"}}
    },
    {
      "layer": [
        {"mark": {"type": "rect", "color": "#777777", "opacity": 0.55},
         "encoding": {"x": {"datum": 1.56, "scale": {"domain": [0, 65], "nice": false, "zero": false}, "axis": null}, "x2": {"datum": 21.38}, "y": {"datum": -1.19, "scale": {"domain": [-7.444, 5.408], "reverse": true, "nice": false, "zero": false}, "axis": null}, "y2": {"datum": -0.084}}},
        {"mark": {"type": "rect", "fill": "#eef0ea", "stroke": "#262626", "strokeWidth": 2},
         "encoding": {"x": {"datum": 1.35, "scale": {"domain": [0, 65], "nice": false, "zero": false}, "axis": null}, "x2": {"datum": 21.17}, "y": {"datum": -1.224, "scale": {"domain": [-7.444, 5.408], "reverse": true, "nice": false, "zero": false}, "axis": null}, "y2": {"datum": -0.12}}},
        {"mark": {"type": "rect", "stroke": "#555555", "strokeWidth": 0.8, "color": {"gradient": "linear", "x1": 0, "y1": 0, "x2": 1, "y2": 0, "stops": [{"offset": 0, "color": "#444444"}, {"offset": 1, "color": "#ffffff"}]}},
         "encoding": {"x": {"datum": 2.16, "scale": {"domain": [0, 65], "nice": false, "zero": false}, "axis": null}, "x2": {"datum": 3.38}, "y": {"datum": -0.964, "scale": {"domain": [-7.444, 5.408], "reverse": true, "nice": false, "zero": false}, "axis": null}, "y2": {"datum": -0.72}}},
        {"mark": {"type": "rect", "color": "#141414"},
         "encoding": {"x": {"datum": 2.16, "scale": {"domain": [0, 65], "nice": false, "zero": false}, "axis": null}, "x2": {"datum": 3.38}, "y": {"datum": -0.6, "scale": {"domain": [-7.444, 5.408], "reverse": true, "nice": false, "zero": false}, "axis": null}, "y2": {"datum": -0.38}}},
        {"mark": {"type": "text", "align": "left", "text": ["Partial or ephemeral", "Full scale and permanent"], "lineHeight": 30},
         "encoding": {"x": {"datum": 3.81, "scale": {"domain": [0, 65], "nice": false, "zero": false}, "axis": null}, "y": {"datum": -0.78, "scale": {"domain": [-7.444, 5.408], "reverse": true, "nice": false, "zero": false}, "axis": null}}},
        {"data": {"name": "ice_ant"}, "mark": {"type": "area", "color": {"gradient": "linear", "x1": 0, "y1": 0, "x2": 1, "y2": 0, "stops": [{"offset": 0, "color": "#141414"}, {"offset": 0.87, "color": "#141414"}, {"offset": 1, "color": "#d8d8d8"}]}},
         "encoding": {"x": {"field": "age", "type": "quantitative", "scale": {"domain": [0, 65], "nice": false, "zero": false}, "axis": null}, "y": {"field": "top", "type": "quantitative", "scale": {"domain": [-7.444, 5.408], "reverse": true, "nice": false, "zero": false}, "axis": null}, "y2": {"field": "bot"}}},
        {"data": {"name": "ice_nh"}, "mark": {"type": "area", "color": {"gradient": "linear", "x1": 0, "y1": 0, "x2": 1, "y2": 0, "stops": [{"offset": 0, "color": "#141414"}, {"offset": 0.18, "color": "#141414"}, {"offset": 1, "color": "#e6e6e6"}]}},
         "encoding": {"x": {"field": "age", "type": "quantitative", "scale": {"domain": [0, 65], "nice": false, "zero": false}, "axis": null}, "y": {"field": "top", "type": "quantitative", "scale": {"domain": [-7.444, 5.408], "reverse": true, "nice": false, "zero": false}, "axis": null}, "y2": {"field": "bot"}}},
        {"data": {"name": "ice_dash"}, "mark": {"type": "rule", "color": "#444444", "strokeDash": [12, 8], "strokeWidth": 1.5},
         "encoding": {"x": {"field": "start", "type": "quantitative", "scale": {"domain": [0, 65], "nice": false, "zero": false}, "axis": null}, "x2": {"field": "end"}, "y": {"field": "d", "type": "quantitative", "scale": {"domain": [-7.444, 5.408], "reverse": true, "nice": false, "zero": false}, "axis": null}}},
        {"mark": {"type": "text", "align": "left", "text": "?"},
         "encoding": {"x": {"datum": 23.2, "scale": {"domain": [0, 65], "nice": false, "zero": false}, "axis": null}, "y": {"datum": 1.03, "scale": {"domain": [-7.444, 5.408], "reverse": true, "nice": false, "zero": false}, "axis": null}}},
        {"data": {"name": "ice_labels"}, "mark": {"type": "text", "align": "left"},
         "encoding": {"x": {"field": "age", "type": "quantitative", "scale": {"domain": [0, 65], "nice": false, "zero": false}, "axis": null}, "y": {"field": "d", "type": "quantitative", "scale": {"domain": [-7.444, 5.408], "reverse": true, "nice": false, "zero": false}, "axis": null}, "text": {"field": "label", "type": "nominal"}}},
        {"data": {"name": "d18o_neogene"}, "mark": {"type": "area", "color": "#4d5b59", "opacity": 0.93},
         "encoding": {
           "x": {"field": "age", "type": "quantitative", "scale": {"domain": [0, 65], "nice": false, "zero": false},
                 "axis": {"orient": "bottom", "title": "Age (millions of years ago)", "values": [0, 10, 20, 30, 40, 50, 60], "tickSize": 13, "labelPadding": 7, "titlePadding": 14}},
           "y": {"field": "lo", "type": "quantitative", "scale": {"domain": [-7.444, 5.408], "reverse": true, "nice": false, "zero": false},
                 "axis": {"orient": "left", "domain": false, "values": [-1, 0, 1, 2, 3, 4, 5], "tickSize": 12, "labelExpr": "'' + datum.value", "labelPadding": 9, "title": "δ¹⁸O (‰)", "titleAngle": 270, "titleX": -55, "titleY": 778, "titleBaseline": "alphabetic", "titleAlign": "center"}},
           "y2": {"field": "hi"}
         }},
        {"data": {"name": "d18o_paleogene"}, "mark": {"type": "area", "color": "#4d5b59", "opacity": 0.55},
         "encoding": {"x": {"field": "age", "type": "quantitative", "scale": {"domain": [0, 65], "nice": false, "zero": false},
                            "axis": {"orient": "bottom", "title": null, "labels": false, "domain": false, "tickSize": 7, "values": [2, 4, 6, 8, 12, 14, 16, 18, 22, 24, 26, 28, 32, 34, 36, 38, 42, 44, 46, 48, 52, 54, 56, 58, 62, 64]}},
                      "y": {"field": "lo", "type": "quantitative", "scale": {"domain": [-7.444, 5.408], "reverse": true, "nice": false, "zero": false},
                            "axis": {"orient": "left", "title": null, "labels": false, "domain": false, "tickSize": 6, "values": [-0.8, -0.6, -0.4, -0.2, 0.2, 0.4, 0.6, 0.8, 1.2, 1.4, 1.6, 1.8, 2.2, 2.4, 2.6, 2.8, 3.2, 3.4, 3.6, 3.8, 4.2, 4.4, 4.6, 4.8]}},
                      "y2": {"field": "hi"}}},
        {"data": {"name": "d18o_pts"}, "mark": {"type": "point", "shape": "M-1,0H1M0,-1V1", "filled": false, "color": "#4d5a57", "strokeWidth": 1.2, "size": 45, "opacity": 0.95},
         "encoding": {"x": {"field": "age", "type": "quantitative", "scale": {"domain": [0, 65], "nice": false, "zero": false}, "axis": null}, "y": {"field": "d", "type": "quantitative", "scale": {"domain": [-7.444, 5.408], "reverse": true, "nice": false, "zero": false}, "axis": null}}},
        {"data": {"name": "arrows"}, "mark": {"type": "rule", "color": "#222222", "strokeWidth": 1.5},
         "encoding": {"x": {"field": "age", "type": "quantitative", "scale": {"domain": [0, 65], "nice": false, "zero": false}, "axis": null}, "y": {"field": "head", "type": "quantitative", "scale": {"domain": [-7.444, 5.408], "reverse": true, "nice": false, "zero": false}, "axis": null}, "y2": {"field": "tail"}}},
        {"data": {"name": "arrows"}, "mark": {"type": "point", "shape": "triangle-up", "filled": true, "color": "#111111", "size": 170, "opacity": 1},
         "encoding": {"x": {"field": "age", "type": "quantitative", "scale": {"domain": [0, 65], "nice": false, "zero": false}, "axis": null}, "y": {"field": "head", "type": "quantitative", "scale": {"domain": [-7.444, 5.408], "reverse": true, "nice": false, "zero": false}, "axis": null}}},
        {"data": {"name": "notes_b"}, "mark": {"type": "text", "align": "center", "fontSize": 20},
         "encoding": {"x": {"field": "age", "type": "quantitative", "scale": {"domain": [0, 65], "nice": false, "zero": false}, "axis": null}, "y": {"field": "d", "type": "quantitative", "scale": {"domain": [-7.444, 5.408], "reverse": true, "nice": false, "zero": false}, "axis": null}, "text": {"field": "label", "type": "nominal"}}},
        {"mark": {"type": "rect", "color": "#5b1a12"},
         "encoding": {"x": {"datum": 49.66, "scale": {"domain": [0, 65], "nice": false, "zero": false}, "axis": null}, "x2": {"datum": 51.89}, "y": {"datum": 0.42, "scale": {"domain": [-7.444, 5.408], "reverse": true, "nice": false, "zero": false}, "axis": null}, "y2": {"datum": 0.5}}},
        {"mark": {"type": "rule", "color": "#5b1a12", "strokeWidth": 1.3},
         "encoding": {"x": {"datum": 50.77, "scale": {"domain": [0, 65], "nice": false, "zero": false}, "axis": null}, "y": {"datum": 0.54, "scale": {"domain": [-7.444, 5.408], "reverse": true, "nice": false, "zero": false}, "axis": null}, "y2": {"datum": 0.9}}},
        {"data": {"name": "epochs"}, "mark": {"type": "rect", "stroke": "#555555", "strokeWidth": 1.2},
         "encoding": {"x": {"field": "start", "type": "quantitative", "scale": {"domain": [0, 65], "nice": false, "zero": false}, "axis": null}, "x2": {"field": "end"}, "y": {"datum": 5.01, "scale": {"domain": [-7.444, 5.408], "reverse": true, "nice": false, "zero": false}, "axis": null}, "y2": {"datum": 5.405},
                      "color": {"field": "epoch", "type": "nominal", "scale": {"domain": ["Pleistocene", "Pliocene", "Miocene", "Oligocene", "Eocene", "Palaeocene"], "range": ["#ffffff", "#f3f1a6", "#f5ec1a", "#f7d5a2", "#f3b85e", "#deaa80"]}, "legend": null}}},
        {"data": {"name": "epoch_labels"}, "mark": {"type": "text", "align": "center"},
         "encoding": {"x": {"field": "age", "type": "quantitative", "scale": {"domain": [0, 65], "nice": false, "zero": false}, "axis": null}, "y": {"field": "d", "type": "quantitative", "scale": {"domain": [-7.444, 5.408], "reverse": true, "nice": false, "zero": false}, "axis": null}, "text": {"field": "label", "type": "nominal"}}},
        {"data": {"name": "plio_labels"}, "mark": {"type": "text", "align": "center", "fontSize": 15},
         "encoding": {"x": {"field": "age", "type": "quantitative", "scale": {"domain": [0, 65], "nice": false, "zero": false}, "axis": null}, "y": {"field": "d", "type": "quantitative", "scale": {"domain": [-7.444, 5.408], "reverse": true, "nice": false, "zero": false}, "axis": null}, "text": {"field": "label", "type": "nominal"}}},
        {"mark": {"type": "rule", "color": "#333333", "strokeWidth": 1},
         "encoding": {"x": {"datum": 1.05, "scale": {"domain": [0, 65], "nice": false, "zero": false}, "axis": null}, "y": {"datum": 4.69, "scale": {"domain": [-7.444, 5.408], "reverse": true, "nice": false, "zero": false}, "axis": null}, "y2": {"datum": 5.405}}},
        {"mark": {"type": "rule", "color": "#333333", "strokeWidth": 1},
         "encoding": {"x": {"datum": 1.05, "scale": {"domain": [0, 65], "nice": false, "zero": false}, "axis": null}, "x2": {"datum": 1.75}, "y": {"datum": 4.69, "scale": {"domain": [-7.444, 5.408], "reverse": true, "nice": false, "zero": false}, "axis": null}}},
        {"mark": {"type": "text", "align": "left", "text": "Pleistocene"},
         "encoding": {"x": {"datum": 2.16, "scale": {"domain": [0, 65], "nice": false, "zero": false}, "axis": null}, "y": {"datum": 4.82, "scale": {"domain": [-7.444, 5.408], "reverse": true, "nice": false, "zero": false}, "axis": null}}},
        {"mark": {"type": "rule", "color": "#333333", "strokeWidth": 1.3},
         "encoding": {"x": {"datum": 0, "scale": {"domain": [0, 65], "nice": false, "zero": false}, "axis": null}, "y": {"datum": -1, "scale": {"domain": [-7.444, 5.408], "reverse": true, "nice": false, "zero": false}, "axis": null}, "y2": {"datum": 5.01}}},
        {"mark": {"type": "rule", "color": "#333333", "strokeWidth": 1.3},
         "encoding": {"x": {"datum": 65.1, "scale": {"domain": [0, 65], "nice": false, "zero": false}, "axis": null}, "y": {"datum": -1, "scale": {"domain": [-7.444, 5.408], "reverse": true, "nice": false, "zero": false}, "axis": null}, "y2": {"datum": 5.405}}},
        {"mark": {"type": "text", "text": "b", "font": "DejaVu Sans", "fontWeight": "bold", "fontSize": 20, "color": "#222222"},
         "encoding": {"x": {"datum": -7.71, "scale": {"domain": [0, 65], "nice": false, "zero": false}, "axis": null}, "y": {"datum": -1.044, "scale": {"domain": [-7.444, 5.408], "reverse": true, "nice": false, "zero": false}, "axis": null}}}
      ],
      "resolve": {"axis": {"x": "independent", "y": "independent"}}
    },
    {
      "layer": [
        {"mark": {"type": "rule", "color": "#333333", "strokeWidth": 1.3},
         "encoding": {"x": {"datum": 65.77, "scale": {"domain": [0, 65], "nice": false, "zero": false}, "axis": null},
                      "y": {"datum": 0, "scale": {"domain": [-9.6, 39.83], "nice": false, "zero": false},
                            "axis": {"orient": "right", "offset": 11, "domain": false, "values": [0, 2, 4, 6, 8, 10, 12], "tickSize": 12, "labelExpr": "datum.value % 4 === 0 ? datum.label : ''", "labelPadding": 3, "title": "Ice-free temperature (°C)", "titleAngle": 270, "titleX": 72, "titleY": 733, "titleBaseline": "alphabetic", "titleAlign": "center"}},
                      "y2": {"datum": 12}}}
      ]
    },
    {
      "layer": [
        {"mark": {"type": "rect", "fill": "#ffffff"},
         "encoding": {"x": {"datum": 32.43, "scale": {"domain": [-1.111, 63.61], "nice": false, "zero": false}, "axis": null}, "x2": {"datum": 66.81}, "y": {"datum": -23.43, "scale": {"domain": [-156.95, 134.88], "nice": false, "zero": false}, "axis": null}, "y2": {"datum": 70.85}}},
        {"data": {"name": "inset_zones"}, "mark": {"type": "rule", "color": "#8f8f80", "strokeWidth": 0.8},
         "encoding": {"x": {"field": "age", "type": "quantitative", "scale": {"domain": [-1.111, 63.61], "nice": false, "zero": false}, "axis": null}, "y": {"datum": -8.99, "scale": {"domain": [-156.95, 134.88], "nice": false, "zero": false}, "axis": null}, "y2": {"datum": 70.85}}},
        {"data": {"name": "inset_stages"}, "mark": {"type": "rule", "color": "#6a6a6a", "strokeWidth": 0.9},
         "encoding": {"x": {"field": "age", "type": "quantitative", "scale": {"domain": [-1.111, 63.61], "nice": false, "zero": false}, "axis": null}, "y": {"datum": -16.35, "scale": {"domain": [-156.95, 134.88], "nice": false, "zero": false}, "axis": null}, "y2": {"datum": 70.85}}},
        {"data": {"name": "inset_rows"}, "mark": {"type": "rule", "color": "#6a6a6a", "strokeWidth": 0.9},
         "encoding": {"x": {"datum": 32.71, "scale": {"domain": [-1.111, 63.61], "nice": false, "zero": false}, "axis": null}, "x2": {"datum": 64.86}, "y": {"field": "n", "type": "quantitative", "scale": {"domain": [-156.95, 134.88], "nice": false, "zero": false}, "axis": null}}},
        {"mark": {"type": "rule", "color": "#e6e01c", "strokeWidth": 2.5},
         "encoding": {"x": {"datum": 41.0, "scale": {"domain": [-1.111, 63.61], "nice": false, "zero": false}, "axis": null}, "y": {"datum": 0.5, "scale": {"domain": [-156.95, 134.88], "nice": false, "zero": false}, "axis": null}, "y2": {"datum": 18.3}}},
        {"mark": {"type": "point", "shape": "square", "filled": true, "color": "#2db52d", "size": 22, "opacity": 1},
         "encoding": {"x": {"datum": 54.65, "scale": {"domain": [-1.111, 63.61], "nice": false, "zero": false}, "axis": null}, "y": {"datum": -7.6, "scale": {"domain": [-156.95, 134.88], "nice": false, "zero": false}, "axis": null}}},
        {"data": {"name": "inset_curves"}, "mark": {"type": "line", "strokeWidth": 1.6},
         "encoding": {"x": {"field": "age", "type": "quantitative", "scale": {"domain": [-1.111, 63.61], "nice": false, "zero": false}, "axis": null}, "y": {"field": "n", "type": "quantitative", "scale": {"domain": [-156.95, 134.88], "nice": false, "zero": false}, "axis": null},
                      "color": {"field": "kind", "type": "nominal", "scale": {"domain": ["orange", "blue", "olive"], "range": ["#ea6a1c", "#2c7cd4", "#56682a"]}, "legend": null}, "detail": {"field": "grp"}}},
        {"data": {"name": "inset_dots"}, "mark": {"type": "circle", "size": 42, "opacity": 1},
         "encoding": {"x": {"field": "age", "type": "quantitative", "scale": {"domain": [-1.111, 63.61], "nice": false, "zero": false}, "axis": null}, "y": {"field": "n", "type": "quantitative", "scale": {"domain": [-156.95, 134.88], "nice": false, "zero": false}, "axis": null},
                      "color": {"field": "kind", "type": "nominal", "scale": {"domain": ["orange", "blue", "olive"], "range": ["#ea6a1c", "#2c7cd4", "#56682a"]}, "legend": null}}},
        {"data": {"name": "sbz"}, "mark": {"type": "text", "font": "Liberation Serif", "fontSize": 9, "color": "#222222", "angle": 90, "align": "center", "baseline": "middle"},
         "encoding": {"x": {"field": "age", "type": "quantitative", "scale": {"domain": [-1.111, 63.61], "nice": false, "zero": false}, "axis": null}, "y": {"datum": -5.3, "scale": {"domain": [-156.95, 134.88], "nice": false, "zero": false}, "axis": null}, "text": {"field": "z", "type": "nominal"}}},
        {"data": {"name": "stage_names"}, "mark": {"type": "text", "font": "Liberation Serif", "fontSize": 10, "color": "#222222", "angle": 180, "align": "center", "baseline": "middle"},
         "encoding": {"x": {"field": "age", "type": "quantitative", "scale": {"domain": [-1.111, 63.61], "nice": false, "zero": false}, "axis": null}, "y": {"field": "n", "type": "quantitative", "scale": {"domain": [-156.95, 134.88], "nice": false, "zero": false}, "axis": null}, "text": {"field": "s", "type": "nominal"}}},
        {"data": {"name": "inset_ages"}, "mark": {"type": "text", "font": "Liberation Serif", "fontSize": 9, "color": "#222222", "angle": 90, "align": "center", "baseline": "middle"},
         "encoding": {"x": {"field": "v", "type": "quantitative", "scale": {"domain": [-1.111, 63.61], "nice": false, "zero": false}, "axis": null}, "y": {"datum": -18.5, "scale": {"domain": [-156.95, 134.88], "nice": false, "zero": false}, "axis": null}, "text": {"field": "v", "type": "quantitative"}}},
        {"data": {"name": "inset_counts"}, "mark": {"type": "text", "font": "Liberation Serif", "fontSize": 9, "color": "#222222", "angle": 270, "align": "center", "baseline": "middle"},
         "encoding": {"x": {"datum": 65.56, "scale": {"domain": [-1.111, 63.61], "nice": false, "zero": false}, "axis": null}, "y": {"field": "v", "type": "quantitative", "scale": {"domain": [-156.95, 134.88], "nice": false, "zero": false}, "axis": null}, "text": {"field": "v", "type": "quantitative"}}},
        {"data": {"name": "inset_notes_c"}, "mark": {"type": "text", "font": "Liberation Serif", "fontSize": 10.5, "color": "#222222", "angle": 270, "align": "center", "baseline": "middle"},
         "encoding": {"x": {"field": "age", "type": "quantitative", "scale": {"domain": [-1.111, 63.61], "nice": false, "zero": false}, "axis": null}, "y": {"field": "n", "type": "quantitative", "scale": {"domain": [-156.95, 134.88], "nice": false, "zero": false}, "axis": null}, "text": {"field": "t", "type": "nominal"}}},
        {"data": {"name": "inset_notes_l"}, "mark": {"type": "text", "font": "Liberation Serif", "fontSize": 10.5, "color": "#222222", "angle": 270, "align": "left", "baseline": "middle"},
         "encoding": {"x": {"field": "age", "type": "quantitative", "scale": {"domain": [-1.111, 63.61], "nice": false, "zero": false}, "axis": null}, "y": {"field": "n", "type": "quantitative", "scale": {"domain": [-156.95, 134.88], "nice": false, "zero": false}, "axis": null}, "text": {"field": "t", "type": "nominal"}}},
        {"mark": {"type": "text", "text": "beginning-", "font": "Liberation Serif", "fontSize": 14, "color": "#222222", "angle": 270, "align": "left", "baseline": "middle"},
         "encoding": {"x": {"datum": 56.04, "scale": {"domain": [-1.111, 63.61], "nice": false, "zero": false}, "axis": null}, "y": {"datum": 47.4, "scale": {"domain": [-156.95, 134.88], "nice": false, "zero": false}, "axis": null}}},
        {"mark": {"type": "rule", "color": "#222222", "strokeWidth": 1},
         "encoding": {"x": {"datum": 39.03, "scale": {"domain": [-1.111, 63.61], "nice": false, "zero": false}, "axis": null}, "y": {"datum": 49.0, "scale": {"domain": [-156.95, 134.88], "nice": false, "zero": false}, "axis": null}, "y2": {"datum": 45.8}}},
        {"mark": {"type": "point", "shape": "triangle-down", "filled": true, "color": "#222222", "size": 18, "opacity": 1},
         "encoding": {"x": {"datum": 39.03, "scale": {"domain": [-1.111, 63.61], "nice": false, "zero": false}, "axis": null}, "y": {"datum": 45.6, "scale": {"domain": [-156.95, 134.88], "nice": false, "zero": false}, "axis": null}}},
        {"mark": {"type": "rule", "color": "#222222", "strokeWidth": 1},
         "encoding": {"x": {"datum": 40.42, "scale": {"domain": [-1.111, 63.61], "nice": false, "zero": false}, "axis": null}, "x2": {"datum": 39.86}, "y": {"datum": 16.35, "scale": {"domain": [-156.95, 134.88], "nice": false, "zero": false}, "axis": null}, "y2": {"datum": 10.1}}},
        {"mark": {"type": "rect", "fill": null, "stroke": "#ff2200", "strokeWidth": 3.5},
         "encoding": {"x": {"datum": 32.43, "scale": {"domain": [-1.111, 63.61], "nice": false, "zero": false}, "axis": null}, "x2": {"datum": 66.81}, "y": {"datum": -23.43, "scale": {"domain": [-156.95, 134.88], "nice": false, "zero": false}, "axis": null}, "y2": {"datum": 70.85}}}
      ]
    },
    {
      "layer": [
        {"mark": {"type": "rect", "fill": "#ff3c1e", "fillOpacity": 0.4, "stroke": "#ff2200", "strokeWidth": 3.5},
         "encoding": {"x": {"datum": 49.24, "scale": {"domain": [0, 65], "nice": false, "zero": false}, "axis": null}, "x2": {"datum": 52.73}, "y": {"datum": -4.62, "scale": {"domain": [-7.444, 5.408], "reverse": true, "nice": false, "zero": false}, "axis": null}, "y2": {"datum": 1.51}}},
        {"mark": {"type": "text", "text": ["Early Eocene", "Climatic Optimum"], "font": "Liberation Sans", "fontSize": 42, "fontWeight": "bold", "color": "#ff2a00", "align": "center", "baseline": "alphabetic", "lineHeight": 44},
         "encoding": {"x": {"datum": 50.36, "scale": {"domain": [0, 65], "nice": false, "zero": false}, "axis": null}, "y": {"datum": -5.388, "scale": {"domain": [-7.444, 5.408], "reverse": true, "nice": false, "zero": false}, "axis": null}}}
      ]
    }
  ],
  "resolve": {"scale": {"x": "independent", "y": "independent", "color": "independent"}, "axis": {"x": "independent", "y": "independent"}}
}
